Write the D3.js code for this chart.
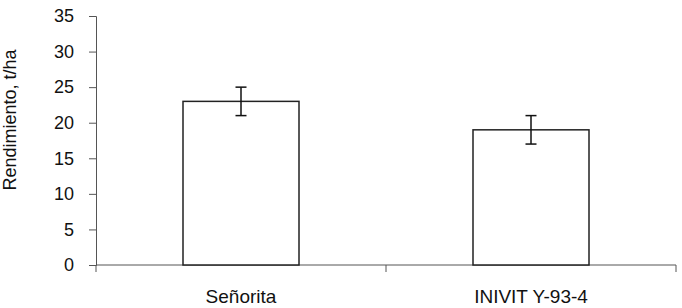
<!DOCTYPE html>
<html>
<head>
<meta charset="utf-8">
<script src="https://cdn.jsdelivr.net/npm/d3@7"></script>
<style>
  body { margin: 0; background: #fff; }
  svg { display: block; font-family: "Liberation Sans", Arial, sans-serif; }
</style>
</head>
<body>
<div id="grafico"></div>
<script>
// datos
const variedades = ["Señorita", "INIVIT Y-93-4"];
const rendimiento = [23, 19];
const errores = [2, 2];
const ticksY = [0, 5, 10, 15, 20, 25, 30, 35];

const width = 682;
const height = 308;
const margin = { top: 16, right: 6, bottom: 43, left: 96 };

const svg = d3.select("#grafico")
  .append("svg")
  .attr("width", width)
  .attr("height", height);

const x = d3.scaleBand()
  .domain(variedades)
  .range([margin.left, width - margin.right])
  .padding(0);

const y = d3.scaleLinear()
  .domain([0, 35])
  .range([height - margin.bottom, margin.top]);

const barW = x.bandwidth() * 0.4;

// eje Y
const ejeY = svg.append("g")
  .attr("transform", `translate(${margin.left},0)`)
  .call(d3.axisLeft(y).tickValues(ticksY).tickSize(7).tickPadding(15));
ejeY.selectAll("text").style("font-size", "18px").attr("fill", "#111");
ejeY.selectAll("line, path").attr("stroke", "#555");

// eje X con marcas entre categorías
const baseY = y(0);
svg.append("line")
  .attr("x1", margin.left).attr("x2", width - margin.right)
  .attr("y1", baseY).attr("y2", baseY)
  .attr("stroke", "#555");

const bordes = variedades.map(d => x(d)).concat([x(variedades[1]) + x.bandwidth()]);
svg.selectAll(".marcaX")
  .data(bordes)
  .join("line")
  .attr("x1", d => d).attr("x2", d => d)
  .attr("y1", baseY).attr("y2", baseY + 7)
  .attr("stroke", "#555");

svg.selectAll(".etiquetaX")
  .data(variedades)
  .join("text")
  .attr("x", d => x(d) + x.bandwidth() / 2)
  .attr("y", height - 5)
  .attr("text-anchor", "middle")
  .style("font-size", "19px")
  .attr("fill", "#111")
  .text(d => d);

// barras
svg.selectAll(".barra")
  .data(rendimiento)
  .join("rect")
  .attr("x", (d, i) => x(variedades[i]) + (x.bandwidth() - barW) / 2)
  .attr("y", d => y(d))
  .attr("width", barW)
  .attr("height", d => baseY - y(d))
  .attr("fill", "#fff")
  .attr("stroke", "#222")
  .attr("stroke-width", 1.5);

// barras de error
const err = svg.append("g").attr("stroke", "#111").attr("stroke-width", 1.5);
rendimiento.forEach((v, i) => {
  const cx = x(variedades[i]) + x.bandwidth() / 2;
  err.append("line").attr("x1", cx).attr("x2", cx)
    .attr("y1", y(v + errores[i])).attr("y2", y(v - errores[i]));
  [v + errores[i], v - errores[i]].forEach(e => {
    err.append("line").attr("x1", cx - 5.5).attr("x2", cx + 5.5)
      .attr("y1", y(e)).attr("y2", y(e));
  });
});

// título eje Y
svg.append("text")
  .attr("transform", "translate(16,120) rotate(-90)")
  .attr("text-anchor", "middle")
  .style("font-size", "18px")
  .attr("fill", "#111")
  .text("Rendimiento, t/ha");
</script>
</body>
</html>
